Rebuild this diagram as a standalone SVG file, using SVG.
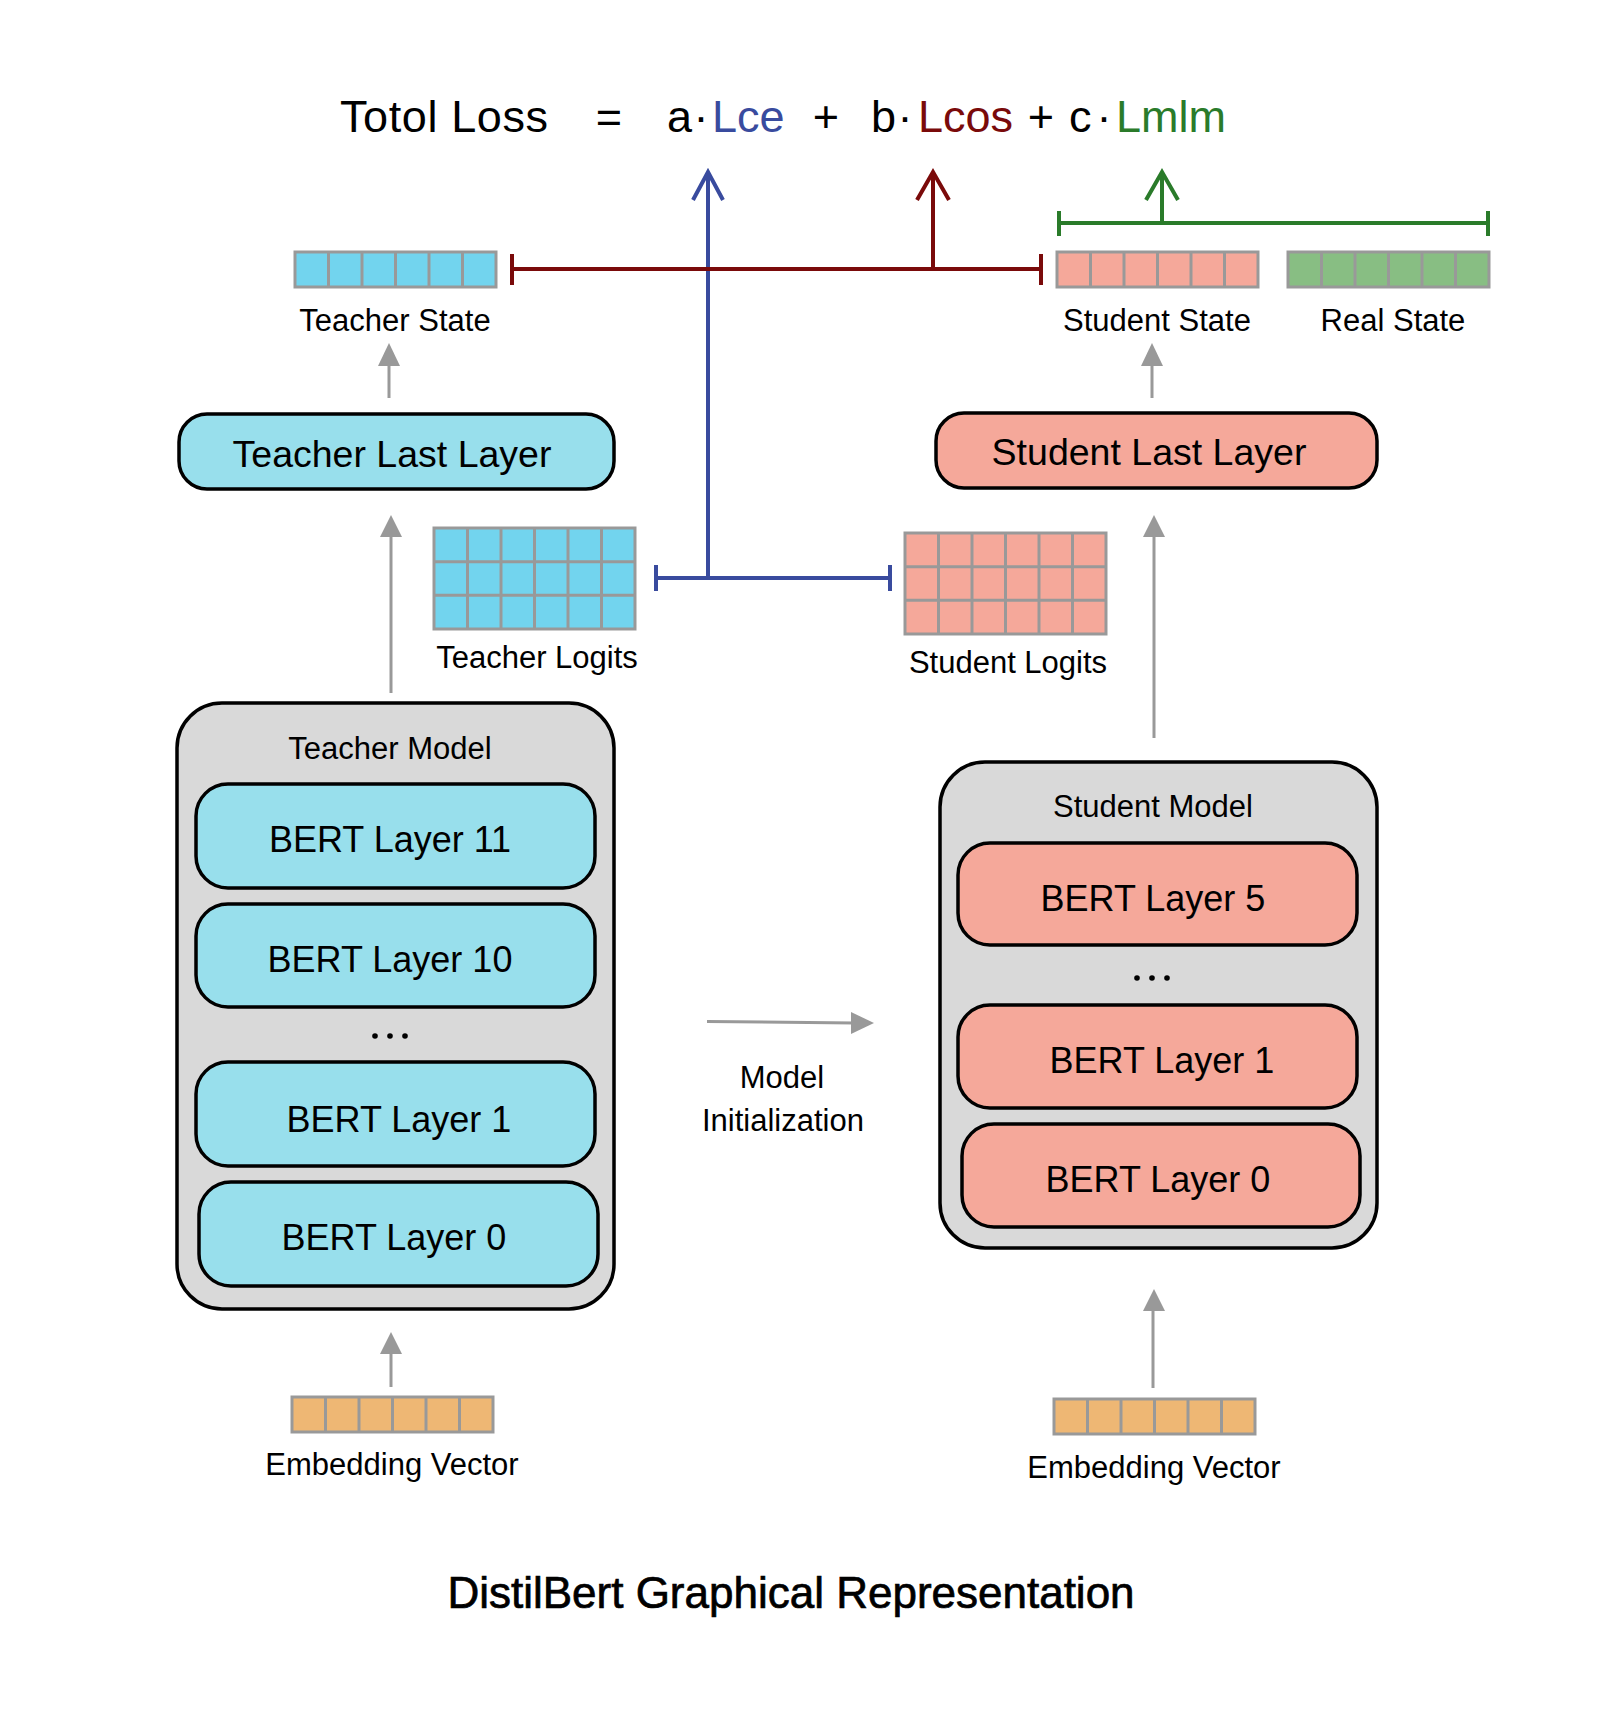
<svg xmlns="http://www.w3.org/2000/svg" width="1614" height="1718" viewBox="0 0 1614 1718">
<style>
text{font-family:"Liberation Sans",Arial,sans-serif;fill:#000}
.f{font-size:45px}
.lbl{font-size:31px;text-anchor:middle}
.big{font-size:37.5px;text-anchor:middle}
.bert{font-size:36px;text-anchor:middle}
.title{font-size:44px;text-anchor:middle;stroke:#000;stroke-width:0.7}
.cell{stroke:#999;stroke-width:3}
.cyan{fill:#72D4EE}.sal{fill:#F5A89A}.grn{fill:#88BE83}.org{fill:#EEB774}
.tbox{fill:#98DFEC;stroke:#000;stroke-width:3.5}
.sbox{fill:#F5A89A;stroke:#000;stroke-width:3.5}
.cont{fill:#D9D9D9;stroke:#000;stroke-width:3.5}
.gline{stroke:#999;stroke-width:3;fill:none}
.ghead{fill:#999}
.blue{stroke:#394B9E;stroke-width:4;fill:none}
.red{stroke:#7A0A0A;stroke-width:4;fill:none}
.green{stroke:#2A7B2A;stroke-width:4;fill:none}
</style>
<defs>
<g id="vec6">
<rect x="0" y="0" width="201" height="35" class="cell"/>
<path d="M33.5 0V35M67 0V35M100.5 0V35M134 0V35M167.5 0V35" class="cell"/>
</g>
<g id="grid">
<rect x="0" y="0" width="201" height="101" class="cell"/>
<path d="M33.5 0V101M67 0V101M100.5 0V101M134 0V101M167.5 0V101M0 33.7H201M0 67.3H201" class="cell"/>
</g>
</defs>

<g id="formula">
<text class="f" x="340" y="132" style="letter-spacing:0.6px">Totol Loss</text>
<text class="f" x="609" y="132" text-anchor="middle">=</text>
<text class="f" x="667" y="132">a</text>
<text class="f" x="701" y="132" text-anchor="middle">·</text>
<text class="f" x="712" y="132" style="fill:#394B9E">Lce</text>
<text class="f" x="826" y="132" text-anchor="middle">+</text>
<text class="f" x="871" y="132">b</text>
<text class="f" x="905" y="132" text-anchor="middle">·</text>
<text class="f" x="918" y="132" style="fill:#7A0A0A">Lcos</text>
<text class="f" x="1041" y="132" text-anchor="middle">+</text>
<text class="f" x="1069" y="132">c</text>
<text class="f" x="1104" y="132" text-anchor="middle">·</text>
<text class="f" x="1116" y="132" style="fill:#2A7B2A">Lmlm</text>
</g>

<g id="teacher-state">
<use href="#vec6" x="295" y="252" class="cyan"/>
<text class="lbl" x="395" y="331">Teacher State</text>
</g>
<g id="student-state">
<use href="#vec6" x="1057" y="252" class="sal"/>
<text class="lbl" x="1157" y="331">Student State</text>
</g>
<g id="real-state">
<use href="#vec6" x="1288" y="252" class="grn"/>
<text class="lbl" x="1393" y="331">Real State</text>
</g>

<g id="teacher-last-layer">
<rect x="179" y="414" width="435" height="75" rx="28" class="tbox"/>
<text class="big" x="392" y="467">Teacher Last Layer</text>
</g>
<g id="student-last-layer">
<rect x="936" y="413" width="441" height="75" rx="28" class="sbox"/>
<text class="big" x="1149" y="465">Student Last Layer</text>
</g>

<g id="teacher-logits">
<use href="#grid" x="434" y="528" class="cyan"/>
<text class="lbl" x="537" y="668">Teacher Logits</text>
</g>
<g id="student-logits">
<use href="#grid" x="905" y="533" class="sal"/>
<text class="lbl" x="1008" y="673">Student Logits</text>
</g>

<g id="teacher-model">
<rect x="177" y="703" width="437" height="606" rx="45" class="cont"/>
<text class="lbl" x="390" y="759">Teacher Model</text>
<g id="t-layer11"><rect x="196" y="784" width="399" height="104" rx="32" class="tbox"/><text class="bert" x="390" y="852">BERT Layer 11</text></g>
<g id="t-layer10"><rect x="196" y="904" width="399" height="103" rx="32" class="tbox"/><text class="bert" x="390" y="972">BERT Layer 10</text></g>
<g id="t-dots"><circle cx="375" cy="1036" r="2.8"/><circle cx="390" cy="1036" r="2.8"/><circle cx="405" cy="1036" r="2.8"/></g>
<g id="t-layer1"><rect x="196" y="1062" width="399" height="104" rx="32" class="tbox"/><text class="bert" x="399" y="1132">BERT Layer 1</text></g>
<g id="t-layer0"><rect x="199" y="1182" width="399" height="104" rx="32" class="tbox"/><text class="bert" x="394" y="1250">BERT Layer 0</text></g>
</g>

<g id="student-model">
<rect x="940" y="762" width="437" height="486" rx="45" class="cont"/>
<text class="lbl" x="1153" y="817">Student Model</text>
<g id="s-layer5"><rect x="958" y="843" width="399" height="102" rx="32" class="sbox"/><text class="bert" x="1153" y="911">BERT Layer 5</text></g>
<g id="s-dots"><circle cx="1137" cy="978" r="2.8"/><circle cx="1152" cy="978" r="2.8"/><circle cx="1167" cy="978" r="2.8"/></g>
<g id="s-layer1"><rect x="958" y="1005" width="399" height="103" rx="32" class="sbox"/><text class="bert" x="1162" y="1073">BERT Layer 1</text></g>
<g id="s-layer0"><rect x="962" y="1124" width="398" height="103" rx="32" class="sbox"/><text class="bert" x="1158" y="1192">BERT Layer 0</text></g>
</g>

<g id="teacher-embedding">
<use href="#vec6" x="292" y="1397" class="org"/>
<text class="lbl" x="392" y="1475">Embedding Vector</text>
</g>
<g id="student-embedding">
<use href="#vec6" x="1054" y="1399" class="org"/>
<text class="lbl" x="1154" y="1478">Embedding Vector</text>
</g>

<g id="model-init-label">
<text class="lbl" x="782" y="1088">Model</text>
<text class="lbl" x="783" y="1131">Initialization</text>
</g>

<g id="title">
<text class="title" x="791" y="1608">DistilBert Graphical Representation</text>
</g>

<g id="connectors">
<path class="gline" d="M389 398V364"/><path class="ghead" d="M389 343L378 366H400Z"/>
<path class="gline" d="M391 693V535"/><path class="ghead" d="M391 515L380 537H402Z"/>
<path class="gline" d="M391 1387V1351"/><path class="ghead" d="M391 1332L380 1354H402Z"/>
<path class="gline" d="M1152 398V364"/><path class="ghead" d="M1152 343L1141 366H1163Z"/>
<path class="gline" d="M1154 738V535"/><path class="ghead" d="M1154 515L1143 537H1165Z"/>
<path class="gline" d="M1153 1388V1309"/><path class="ghead" d="M1154 1289L1143 1311H1165Z"/>
<path class="gline" d="M707 1021.5L854 1023"/><path class="ghead" d="M874 1023L851 1012V1034Z"/>
<path class="blue" d="M656 578H890M656 565V591M890 565V591M708 578V172M693 200L708 172L723 200"/>
<path class="red" d="M512 269H1041M512 254V285M1041 254V285M933 269V172M917 200L933 172L949 200"/>
<path class="green" d="M1059 223H1488M1059 211V236M1488 211V236M1162 223V172M1146 200L1162 172L1178 200"/>
</g>
</svg>
